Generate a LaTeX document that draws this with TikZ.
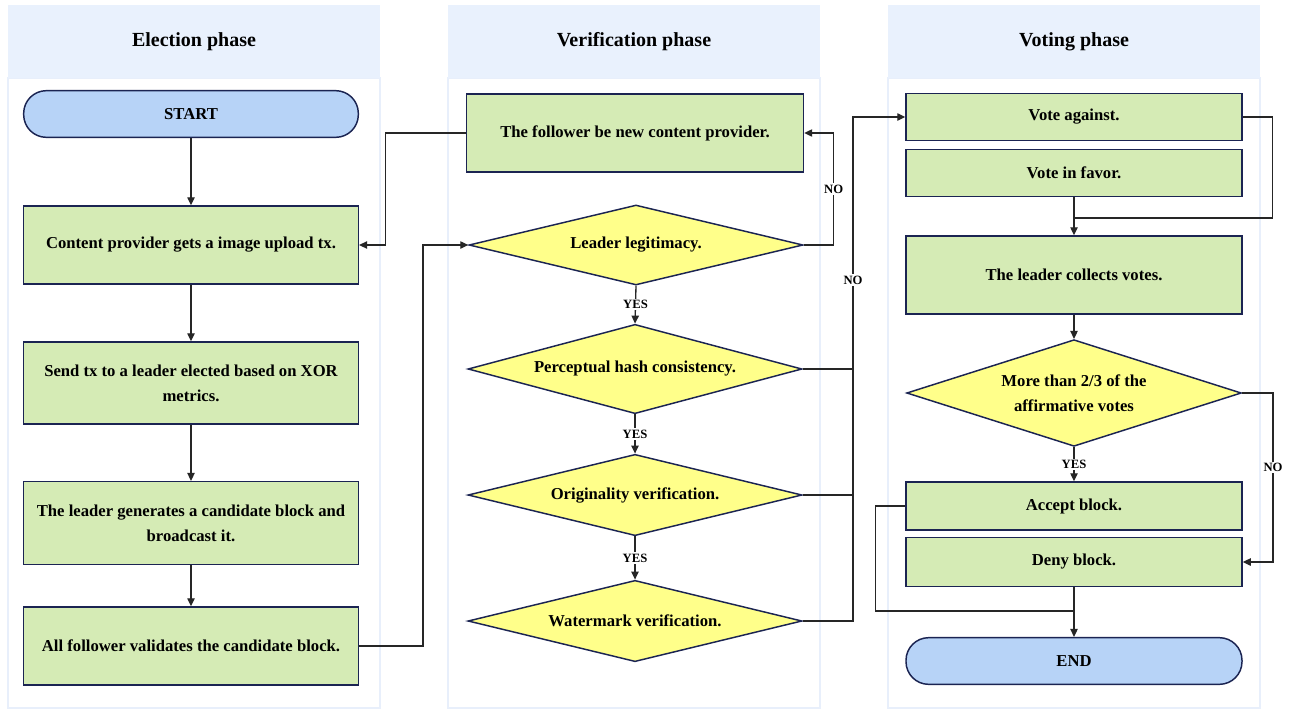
\documentclass[tikz,border=0pt]{standalone}
\usepackage{fontspec}
\setmainfont{Liberation Serif}
\usetikzlibrary{shapes.geometric,arrows.meta}
\definecolor{gfill}{HTML}{D5EBB5}
\definecolor{yfill}{HTML}{FFFF8A}
\definecolor{bfill}{HTML}{B7D3F7}
\definecolor{edge}{HTML}{1B2452}
\definecolor{hfill}{HTML}{E9F1FD}
\definecolor{lborder}{HTML}{E8EFFB}
\tikzset{
  box/.style={draw=edge, line width=1.1pt, fill=gfill, align=center, font=\bfseries\fontsize{12.5}{19}\selectfont, inner sep=0pt},
  pill/.style={draw=edge, line width=1.1pt, fill=bfill, rounded corners=17pt, align=center, font=\bfseries\fontsize{12.5}{15}\selectfont, inner sep=0pt, minimum width=251pt, minimum height=35pt},
  dia/.style={draw=edge, line width=1.1pt, fill=yfill, shape=diamond, shape aspect=4.2, align=center, font=\bfseries\fontsize{12.5}{19}\selectfont, inner sep=0pt},
  arr/.style={draw=black!85, line width=1pt, -{Triangle[length=6pt,width=5.5pt]}},
  ln/.style={draw=black!85, line width=1pt},
  lbl/.style={fill=white, inner sep=1pt, font=\bfseries\fontsize{9.5}{11}\selectfont},
  head/.style={font=\bfseries\fontsize{15}{18}\selectfont},
}
\begin{document}
\begin{tikzpicture}[x=0.75pt,y=-0.75pt]
\useasboundingbox (0,0) rectangle (1291,711);
% lanes
\foreach \lx in {8,448,888}{
  \fill[white] (\lx,5) rectangle ++(372,703);
  \draw[lborder, line width=1pt] (\lx,78) rectangle ++(372,630);
  \fill[hfill] (\lx,5) rectangle ++(372,73);
}
\node[head] (h1) at (194,42) {Election phase};
\node[head] (h2) at (634,42) {Verification phase};
\node[head] (h3) at (1074,42) {Voting phase};

% Election
\node[pill] (start) at (191,114) {START};
\node[box, minimum width=251pt, minimum height=58.5pt] (cp) at (191,245) {Content provider gets a image upload tx.};
\node[box, minimum width=251pt, minimum height=61.5pt] (send) at (191,383) {Send tx to a leader elected based on XOR\\metrics.};
\node[box, minimum width=251pt, minimum height=62pt] (gen) at (191,523) {The leader generates a candidate block and\\broadcast it.};
\node[box, minimum width=251pt, minimum height=58.5pt] (all) at (191,646) {All follower validates the candidate block.};

% Verification
\node[box, minimum width=252.75pt, minimum height=58.5pt] (fol) at (635,133) {The follower be new content provider.};
\node[dia, minimum width=250.5pt, minimum height=60pt] (leg) at (636,245) {Leader legitimacy.};
\node[dia, minimum width=250.5pt, minimum height=67pt] (hash) at (635,369) {Perceptual hash consistency.};
\node[dia, minimum width=250.5pt, minimum height=61pt] (orig) at (635,495) {Originality verification.};
\node[dia, minimum width=250.5pt, minimum height=61pt] (wm) at (635,621) {Watermark verification.};

% Voting
\node[box, minimum width=252pt, minimum height=35.5pt] (va) at (1074,117) {Vote against.};
\node[box, minimum width=252pt, minimum height=35.5pt] (vf) at (1074,173) {Vote in favor.};
\node[box, minimum width=252pt, minimum height=58.5pt] (lc) at (1074,275) {The leader collects votes.};
\node[dia, minimum width=251pt, minimum height=80pt] (vd) at (1074,393) {More than 2/3 of the\\affirmative votes};
\node[box, minimum width=252pt, minimum height=36pt] (acc) at (1074,506) {Accept block.};
\node[box, minimum width=252pt, minimum height=36.5pt] (deny) at (1074,562) {Deny block.};
\node[pill, minimum width=252pt] (end) at (1074,661) {END};

% Election connectors
\draw[arr] (start) -- (cp);
\draw[arr] (cp) -- (send);
\draw[arr] (send) -- (gen);
\draw[arr] (gen) -- (all);
\draw[arr] (all.east) -- ++(64,0) |- (leg.west);
\draw[arr] (fol.west) -- ++(-80,0) |- (cp.east);

% Verification connectors
\draw[arr] (leg.east) -- ++(30,0) |- (fol.east) node[lbl, pos=0.25] {NO};
\draw[arr] (leg.south) -- (hash.north) node[lbl, midway] {YES};
\draw[arr] (hash.south) -- (orig.north) node[lbl, midway] {YES};
\draw[arr] (orig.south) -- (wm.north) node[lbl, midway] {YES};
\coordinate (nj) at (853,369);
\draw[ln] (hash.east) -- (nj);
\draw[ln] (orig.east) -- (853,495);
\draw[arr] (wm.east) -- (853,621) |- (va.west);
\node[lbl] (no2) at (853,280) {NO};

% Voting connectors
\coordinate (mg) at (1074,218);
\draw[ln] (va.east) -- ++(30,0) |- (mg);
\draw[arr] (vf) -- (lc);
\draw[arr] (lc) -- (vd);
\draw[arr] (vd.south) -- (acc.north) node[lbl, midway] {YES};
\draw[arr] (vd.east) -- ++(31,0) |- (deny.east) node[lbl, pos=0.22] {NO};
\coordinate (mg2) at (1074,611);
\draw[ln] (acc.west) -- ++(-30,0) |- (mg2);
\draw[arr] (deny) -- (end);
\end{tikzpicture}
\end{document}
